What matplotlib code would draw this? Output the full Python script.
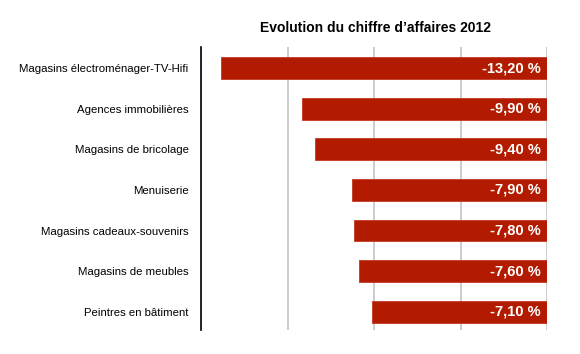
import matplotlib.pyplot as plt

categories = ["Magasins électroménager-TV-Hifi", "Agences immobilières",
              "Magasins de bricolage", "Menuiserie",
              "Magasins cadeaux-souvenirs", "Magasins de meubles",
              "Peintres en bâtiment"]
values = [-13.2, -9.9, -9.4, -7.9, -7.8, -7.6, -7.1]
labels = ["-13,20 %", "-9,90 %", "-9,40 %", "-7,90 %", "-7,80 %", "-7,60 %", "-7,10 %"]

plt.rcParams['font.family'] = ['Liberation Sans', 'DejaVu Sans']

fig = plt.figure(figsize=(5.8, 3.54), dpi=100)
ax = fig.add_axes([201/580, 1 - 330/354, 346/580, 283/354])

y = list(range(len(categories)))
ax.barh(y, values, height=0.54, color="#b31b00", edgecolor="#c23a22",
        linewidth=0.6, zorder=3)
for i, (v, lab) in enumerate(zip(values, labels)):
    ax.text(-0.25, i, lab, color="white", fontsize=10.5, fontweight="bold",
            ha="right", va="center", zorder=4)

ax.set_xlim(-14, 0)
ax.set_ylim(6.45, -0.52)
ax.set_xticks([-14, -10.5, -7, -3.5, 0])
ax.xaxis.grid(True, color="#c4c4c4", linewidth=1.2, zorder=0)
ax.tick_params(axis="x", length=0, labelbottom=False)
ax.tick_params(axis="y", length=0, pad=9, labelsize=8.2)
ax.set_yticks(y)
ax.set_yticklabels(categories)
for s in ["top", "right", "bottom"]:
    ax.spines[s].set_visible(False)
ax.spines["left"].set_linewidth(1.2)
ax.spines["left"].set_zorder(5)

fig.text(375/580, 1 - 28/354, "Evolution du chiffre d\u2019affaires 2012",
         ha="center", va="center", fontsize=10, fontweight="bold")

fig.savefig("out.png", dpi=100)
